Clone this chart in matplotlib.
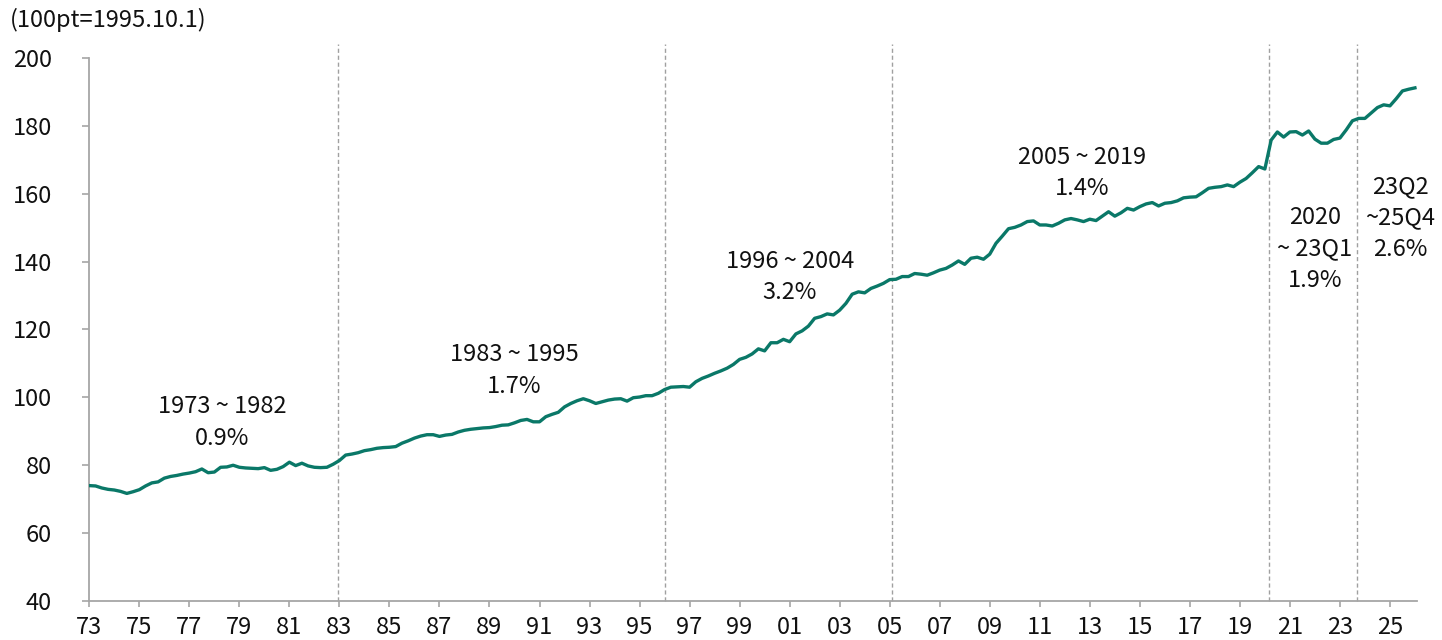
import numpy as np
import matplotlib
matplotlib.use("Agg")
import matplotlib.pyplot as plt

plt.rcParams['font.family'] = ['Noto Sans CJK KR', 'DejaVu Sans']

# ---------------- data ----------------
start_year = 1973
# quarterly index values, 1973.01.01 ... 2026.01.01 (100pt = 1995.10.1)
vals_1973_1982 = [74.0, 73.9, 73.3, 72.9, 72.7, 72.3, 71.7, 72.2,
                  72.8, 73.9, 74.8, 75.1, 76.2, 76.7, 77.0, 77.4,
                  77.7, 78.1, 78.9, 77.8, 78.0, 79.4, 79.5, 80.0,
                  79.4, 79.2, 79.1, 79.0, 79.3, 78.5, 78.8, 79.6,
                  80.9, 79.9, 80.6, 79.8, 79.4, 79.3, 79.4, 80.3]
vals_1983_1995 = [81.4, 83.0, 83.3, 83.7, 84.3, 84.6, 85.0, 85.2,
                  85.3, 85.5, 86.5, 87.2, 88.0, 88.6, 89.0, 89.0,
                  88.5, 88.9, 89.1, 89.8, 90.3, 90.6, 90.8, 91.0,
                  91.1, 91.4, 91.8, 91.9, 92.5, 93.2, 93.5, 92.8,
                  92.8, 94.3, 95.0, 95.6, 97.2, 98.2, 99.0, 99.6,
                  99.0, 98.2, 98.7, 99.2, 99.5, 99.6, 98.9, 99.9,
                  100.1, 100.5, 100.5, 101.2]
vals_1996_2004 = [102.3, 103.0, 103.1, 103.2, 103.0, 104.6, 105.6, 106.3,
                  107.1, 107.8, 108.6, 109.7, 111.2, 111.8, 112.8, 114.3,
                  113.7, 116.1, 116.1, 117.1, 116.4, 118.7, 119.6, 121.0,
                  123.3, 123.8, 124.6, 124.3, 125.7, 127.7, 130.4, 131.1,
                  130.8, 132.1, 132.8, 133.6]
vals_2005_2019 = [134.7, 134.8, 135.6, 135.6, 136.5, 136.3, 136.0, 136.7,
                  137.5, 138.0, 139.0, 140.2, 139.2, 141.0, 141.3, 140.7,
                  142.2, 145.4, 147.5, 149.7, 150.1, 150.8, 151.8, 152.0,
                  150.8, 150.8, 150.5, 151.3, 152.3, 152.7, 152.3, 151.8,
                  152.5, 152.1, 153.4, 154.7, 153.4, 154.4, 155.7, 155.2,
                  156.2, 157.0, 157.4, 156.4, 157.2, 157.4, 157.9, 158.8,
                  159.0, 159.1, 160.3, 161.6, 161.9, 162.1, 162.6, 162.1,
                  163.4, 164.5, 166.2, 168.0]
vals_2020_2026 = [167.3, 175.8, 178.2, 176.7, 178.2, 178.3, 177.3, 178.5,
                  176.1, 174.9, 174.9, 176.0, 176.4, 178.8, 181.5, 182.2,
                  182.2, 183.8, 185.4, 186.2, 185.9, 188.0, 190.3, 190.8,
                  191.2]

values = vals_1973_1982 + vals_1983_1995 + vals_1996_2004 + vals_2005_2019 + vals_2020_2026

# period boundaries (dashed lines)
period_breaks = [1982.95, 1996.03, 2005.1, 2020.16, 2023.67]

# period labels
period_labels = [
    (1978.3, ["1973 ~ 1982", "0.9%"]),
    (1990.0, ["1983 ~ 1995", "1.7%"]),
    (2001.0, ["1996 ~ 2004", "3.2%"]),
    (2012.7, ["2005 ~ 2019", "1.4%"]),
    (2022.0, ["2020", "~ 23Q1", "1.9%"]),
    (2025.4, ["23Q2", "~25Q4", "2.6%"]),
]
label_top_y = [97.2, 112.5, 140.0, 170.7, 152.9, 162.1]

xtick_years = list(range(1973, 2026, 2))
xtick_labels = [f"{y % 100:02d}" for y in xtick_years]
yticks = list(range(40, 201, 20))

# ---------------- plot ----------------
x = start_year + np.arange(len(values)) / 4.0

W, H = 1442, 640
fig = plt.figure(figsize=(W / 100, H / 100), dpi=100)
ax = fig.add_axes([89.3 / W, 1 - 601 / H, (1416.7 - 89.3) / W, 543 / H])

line_color = '#0a7868'
axis_color = '#a6a6a6'

ax.plot(x, values, color=line_color, lw=2.4, solid_joinstyle='round', zorder=3)

for b in period_breaks:
    ax.plot([b, b], [40, 204], color='#a0a0a0', lw=1.0, ls=(0, (3, 2)),
            clip_on=False, zorder=1)

fs = 17
line_gap = 9.2  # data units between label lines
for (cx, lines), ty in zip(period_labels, label_top_y):
    for i, t in enumerate(lines):
        ax.text(cx, ty - i * line_gap, t, ha='center', va='center',
                fontsize=fs, color='#111111')

ax.set_xlim(1973, 2026.07)
ax.set_ylim(40, 200)
ax.set_xticks(xtick_years)
ax.set_xticklabels(xtick_labels)
ax.set_yticks(yticks)

for s in ['top', 'right']:
    ax.spines[s].set_visible(False)
for s in ['left', 'bottom']:
    ax.spines[s].set_color(axis_color)
    ax.spines[s].set_linewidth(1.3)

ax.tick_params(axis='y', direction='out', length=5, width=1.2, color=axis_color,
               labelsize=fs, pad=22, labelcolor='#111111')
ax.tick_params(axis='x', direction='out', length=4.5, width=1.2, color=axis_color,
               labelsize=fs, pad=6, labelcolor='#111111')

fig.text(10 / W, 1 - 20 / H, "(100pt=1995.10.1)", ha='left', va='center',
         fontsize=fs, color='#111111')

fig.savefig("out.png", dpi=100)
